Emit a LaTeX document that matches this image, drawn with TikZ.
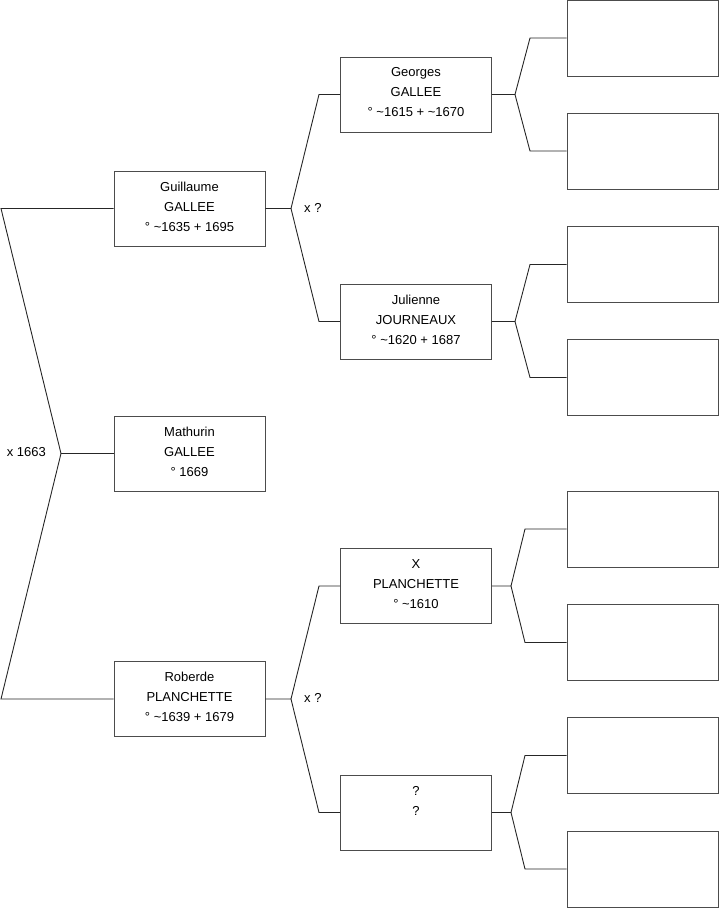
\documentclass[tikz,border=0pt]{standalone}
\usepackage{fontspec}
\setmainfont{Liberation Sans}
\newcommand{\ptxt}[1]{\raisebox{2pt}[\height][\depth]{\parbox{140pt}{\centering #1}}}
\begin{document}
\begin{tikzpicture}[x=1pt,y=-1pt,
  person/.style={draw=black!70, line width=0.9pt, rectangle, minimum width=151pt, minimum height=75pt, inner sep=0pt, align=center, font=\fontsize{13}{20}\selectfont},
  empty/.style={draw=black!70, line width=0.9pt, rectangle, minimum width=151pt, minimum height=76pt, inner sep=0pt},
  link/.style={draw=black!85, line width=0.9pt},
  lab/.style={font=\fontsize{13}{15}\selectfont, inner sep=0pt}]
\useasboundingbox (0,0) rectangle (719,908);
% generation 1
\node[person] (gui) at (189.5,208.5) {\ptxt{Guillaume\\GALLEE\\° \textasciitilde1635 + 1695}};
\node[person] (mat) at (189.5,453.5) {\ptxt{Mathurin\\GALLEE\\° 1669}};
\node[person] (rob) at (189.5,699) {\ptxt{Roberde\\PLANCHETTE\\° \textasciitilde1639 + 1679}};
% generation 2
\node[person] (geo) at (416,94.5) {\ptxt{Georges\\GALLEE\\° \textasciitilde1615 + \textasciitilde1670}};
\node[person] (jul) at (416,321.5) {\ptxt{Julienne\\JOURNEAUX\\° \textasciitilde1620 + 1687}};
\node[person] (xpl) at (416,586) {\ptxt{X\\PLANCHETTE\\° \textasciitilde1610}};
\node[person] (unk) at (416,812.5) {\ptxt{?\\?\\\phantom{1}}};
% generation 3
\node[empty] (r1) at (642.5,38) {};
\node[empty] (r2) at (642.5,151) {};
\node[empty] (r3) at (642.5,264.5) {};
\node[empty] (r4) at (642.5,377.5) {};
\node[empty] (r5) at (642.5,529) {};
\node[empty] (r6) at (642.5,642.5) {};
\node[empty] (r7) at (642.5,755.5) {};
\node[empty] (r8) at (642.5,869) {};
% left bracket
\coordinate (l1) at (1,208.5);
\coordinate (la) at (61,453.5);
\coordinate (l2) at (1,699);
\draw[link] (gui.west) -- (l1) -- (la) -- (l2) -- (rob.west);
\draw[link] (la) -- (mat.west);
\node[lab, anchor=east] (m1) at (46,452) {x 1663};
% middle top
\coordinate (ba) at (291,208.5);
\coordinate (bt) at (319,94.5);
\coordinate (bb) at (319,321.5);
\draw[link] (gui.east) -- (ba) -- (bt) -- (geo.west);
\draw[link] (ba) -- (bb) -- (jul.west);
\node[lab, anchor=west] (m2) at (304,208) {x ?};
% middle bottom
\coordinate (ca) at (291,699);
\coordinate (ct) at (319,586);
\coordinate (cb) at (319,812.5);
\draw[link] (rob.east) -- (ca) -- (ct) -- (xpl.west);
\draw[link] (ca) -- (cb) -- (unk.west);
\node[lab, anchor=west] (m3) at (304,698) {x ?};
% right brackets
\coordinate (d1a) at (515,94.5);
\coordinate (d1t) at (530,38);
\coordinate (d1b) at (530,151);
\draw[link] (geo.east) -- (d1a) -- (d1t) -- (r1.west);
\draw[link] (d1a) -- (d1b) -- (r2.west);
\coordinate (d2a) at (515,321.5);
\coordinate (d2t) at (530,264.5);
\coordinate (d2b) at (530,377.5);
\draw[link] (jul.east) -- (d2a) -- (d2t) -- (r3.west);
\draw[link] (d2a) -- (d2b) -- (r4.west);
\coordinate (d3a) at (511,586);
\coordinate (d3t) at (525,529);
\coordinate (d3b) at (525,642.5);
\draw[link] (xpl.east) -- (d3a) -- (d3t) -- (r5.west);
\draw[link] (d3a) -- (d3b) -- (r6.west);
\coordinate (d4a) at (511,812.5);
\coordinate (d4t) at (525,755.5);
\coordinate (d4b) at (525,869);
\draw[link] (unk.east) -- (d4a) -- (d4t) -- (r7.west);
\draw[link] (d4a) -- (d4b) -- (r8.west);
\end{tikzpicture}
\end{document}
